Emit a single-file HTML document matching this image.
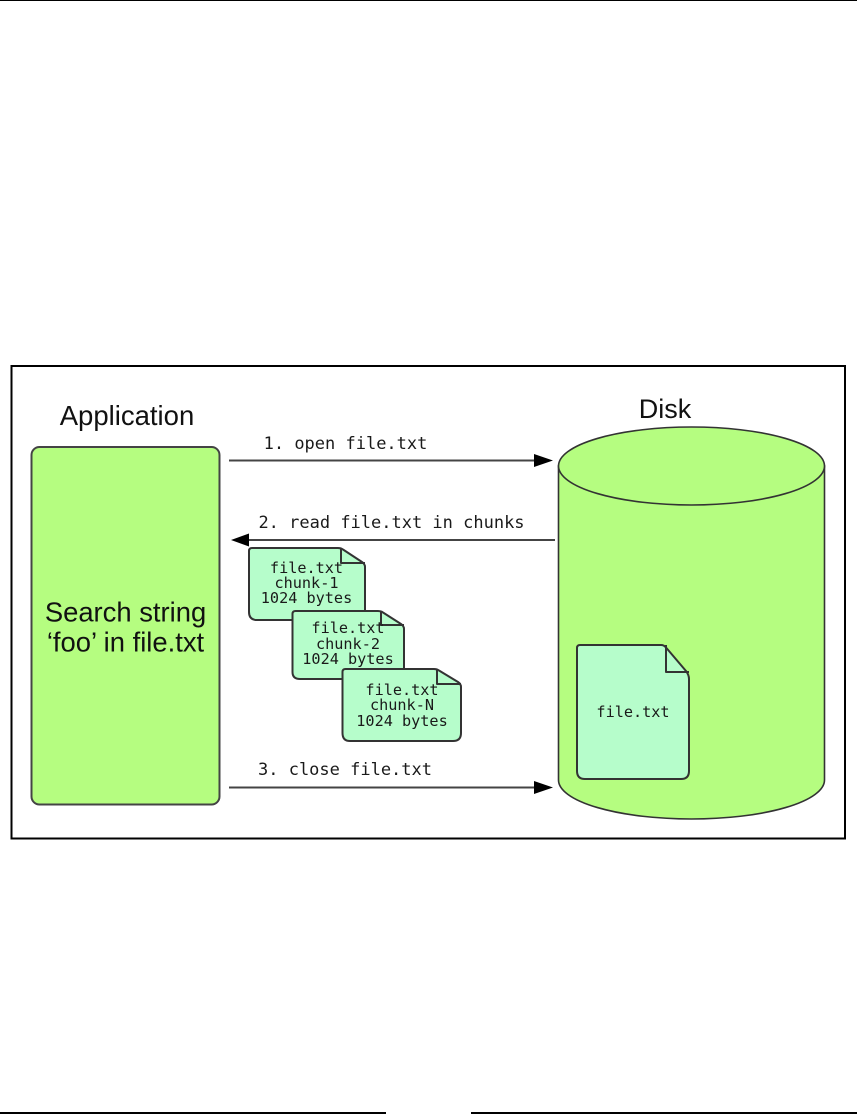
<!DOCTYPE html>
<html>
<head>
<meta charset="utf-8">
<style>
html,body{margin:0;padding:0;background:#fff;width:857px;height:1114px;overflow:hidden}
svg{display:block}
.m{font-family:"DejaVu Sans Mono","Liberation Mono",monospace;fill:#1a1a1a}
.s{font-family:"Liberation Sans",sans-serif;fill:#111}
</style>
</head>
<body>
<svg width="857" height="1114" viewBox="0 0 857 1114" xmlns="http://www.w3.org/2000/svg">
<rect x="0" y="0" width="857" height="1" fill="#000"/>
<rect x="0" y="1112" width="386" height="2" fill="#000"/>
<rect x="471" y="1112" width="386" height="2" fill="#000"/>
<rect x="11.5" y="366" width="833.5" height="472.5" fill="#fff" stroke="#000" stroke-width="2"/>

<text class="s" x="127" y="425" font-size="27.500" text-anchor="middle">Application</text>
<text class="s" x="665" y="418" font-size="27" text-anchor="middle">Disk</text>

<rect x="31.500" y="447" width="188" height="357.500" rx="8" fill="#b5fd80" stroke="#444" stroke-width="2"/>
<text class="s" x="125.500" y="621.500" font-size="27.400" text-anchor="middle">Search string</text>
<text class="s" x="125.500" y="651.500" font-size="27.400" text-anchor="middle">‘foo’ in file.txt</text>

<path d="M558.500 466V780A133 39 0 0 0 824.500 780V466Z" fill="#b5fd80" stroke="#333" stroke-width="1.600"/>
<ellipse cx="691.500" cy="466" rx="133" ry="39" fill="#b5fd80" stroke="#333" stroke-width="1.600"/>

<g stroke="#444" stroke-width="2" fill="none">
<path d="M229 460.500H540"/>
<path d="M244 540H555"/>
<path d="M229 787.500H540"/>
</g>
<path d="M553 460.500L534 454V467Z" fill="#000"/>
<path d="M231 540L249 533.500V546.500Z" fill="#000"/>
<path d="M553 787.500L534 781V794Z" fill="#000"/>

<g font-size="17">
<text class="m" x="345.500" y="449" text-anchor="middle">1. open file.txt</text>
<text class="m" x="391.500" y="528" text-anchor="middle">2. read file.txt in chunks</text>
<text class="m" x="345" y="775" text-anchor="middle">3. close file.txt</text>
</g>

<g stroke="#333" stroke-width="2" fill="#b6fdcb" stroke-linejoin="round">
<path d="M249 551Q249 548 252 548H338Q341 548 343 549.500L362 562Q365 564 365 567V612Q365 620 357 620H257Q249 620 249 612Z"/>
<path d="M341 548V563H365" fill="none"/>
<path d="M292.500 614Q292.500 611 295.500 611H378Q381 611 383 612.500L401 624Q404 626 404 629V672Q404 679 397 679H300Q292.500 679 292.500 672Z"/>
<path d="M381 611V625H404" fill="none"/>
<path d="M342.500 672Q342.500 669 345.500 669H434Q437 669 439 670.500L458 682Q461 684 461 687V733Q461 741 453 741H350Q342.500 741 342.500 733Z"/>
<path d="M437 669V684H461" fill="none"/>
<path d="M577 648Q577 645 580 645H661Q664 645 666 647.500L686 671Q689 675 689 679V771Q689 779 681 779H585Q577 779 577 771Z"/>
<path d="M666 645V672H689" fill="none"/>
</g>

<g font-size="15.200" text-anchor="middle">
<text class="m" x="306.500" y="573">file.txt</text>
<text class="m" x="306.500" y="588">chunk-1</text>
<text class="m" x="306.500" y="603">1024 bytes</text>
<text class="m" x="348" y="633">file.txt</text>
<text class="m" x="348" y="649">chunk-2</text>
<text class="m" x="348" y="664">1024 bytes</text>
<text class="m" x="402" y="695">file.txt</text>
<text class="m" x="402" y="710">chunk-N</text>
<text class="m" x="402" y="726">1024 bytes</text>
<text class="m" x="633" y="717">file.txt</text>
</g>
</svg>
</body>
</html>
